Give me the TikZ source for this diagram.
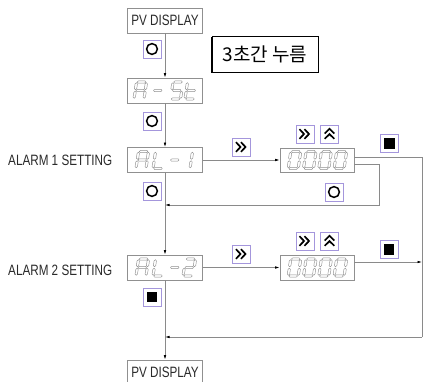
\documentclass[tikz,border=0pt]{standalone}
\usepackage{fontspec}
\usetikzlibrary{arrows.meta}
\newfontfamily\lab[FakeStretch=0.78]{Liberation Sans}
\newfontfamily\kr{Noto Sans CJK KR}
\definecolor{linegray}{HTML}{8A8A8A}
\definecolor{boxgray}{HTML}{909090}
\definecolor{seggray}{HTML}{909090}
\definecolor{btnpurple}{HTML}{A496DC}
\definecolor{txt}{HTML}{2A2A2A}
\tikzset{
  box/.style={draw=boxgray, line width=0.7pt, fill=white, minimum width=75pt, minimum height=25pt, inner sep=0pt, text=txt, font=\lab\fontsize{15}{15}\selectfont},
  btn/.style={draw=btnpurple, line width=0.7pt, fill=white, minimum size=18pt, inner sep=0pt},
  wire/.style={draw=linegray, line width=0.7pt},
  arr/.style={wire, -{Latex[length=4.5pt,width=2.6pt,black]}},
  seg/.style={draw=seggray, line width=0.45pt, line join=round},
  icon/.style={draw=black, line width=1.7pt},
  lbl/.style={text=txt, font=\lab\fontsize{15}{15}\selectfont, anchor=west, inner sep=0pt},
}
\newcommand\hseg[1]{\draw[seg] (0.7,#1) -- ++(1.2,1.2) -- ++(6.2,0) -- ++(1.2,-1.2) -- ++(-1.2,-1.2) -- ++(-6.2,0) -- cycle;}
\newcommand\vseg[2]{\draw[seg] (#1,#2+0.7) -- ++(1.2,1.2) -- ++(0,4.7) -- ++(-1.2,1.2) -- ++(-1.2,-1.2) -- ++(0,-4.7) -- cycle;}
\newcommand\segA{\hseg{17}}
\newcommand\segG{\hseg{8.5}}
\newcommand\segD{\hseg{0}}
\newcommand\segF{\vseg{0}{8.5}}
\newcommand\segE{\vseg{0}{0}}
\newcommand\segB{\vseg{10}{8.5}}
\newcommand\segC{\vseg{10}{0}}
\newcommand\sdig[3]{\begin{scope}[shift={(#1,#2)},yscale=-1,xslant=-0.15]\foreach \s in {#3}{\csname seg\s\endcsname}\end{scope}}
\newcommand\icCirc[1]{\draw[draw=black,line width=1.5pt] (#1.center) circle (5.4pt);}
\newcommand\icRight[1]{\begin{scope}[shift={(#1.center)}]\draw[icon] (-5.5,-4.8) -- (-1,0) -- (-5.5,4.8) (-0.5,-4.8) -- (4,0) -- (-0.5,4.8);\end{scope}}
\newcommand\icUp[1]{\begin{scope}[shift={(#1.center)}]\draw[icon] (-4.8,-0.5) -- (0,-5.2) -- (4.8,-0.5) (-4.8,4.8) -- (0,0.1) -- (4.8,4.8);\end{scope}}
\newcommand\icStop[1]{\fill[black] ([shift={(-5.4,-5.4)}]#1.center) rectangle ([shift={(5.4,5.4)}]#1.center);}
\begin{document}
\begin{tikzpicture}[x=1pt,y=-1pt]
\useasboundingbox[fill=white] (0,0) rectangle (426,382);
% main boxes
\node[box] (pv1) at (165,20.5) {PV DISPLAY};
\node[box] (ast) at (165,90.5) {};
\node[box] (al1) at (165,160) {};
\node[box] (al2) at (165,267.5) {};
\node[box] (pv2) at (165,372.5) {PV DISPLAY};
\node[box,minimum width=74pt,minimum height=24pt] (z1) at (317,160) {};
\node[box,minimum width=74pt] (z2) at (317,267.5) {};
% labels
\node[lbl] (t1) at (8,160.5) {ALARM 1 SETTING};
\node[lbl] (t2) at (8,270.5) {ALARM 2 SETTING};
% note box
\fill[black] (210.5,37.5) rectangle (316.5,73.5);
\node[draw=black, line width=0.8pt, fill=white, minimum width=106pt, minimum height=36pt, inner sep=0pt, font=\kr\fontsize{19}{19}\selectfont, text=black] (note) at (265,54) {3초간 누름};
% connectors
\coordinate (r1) at (379,164);
\coordinate (r2) at (379,205);
\coordinate (j1) at (165,205);
\coordinate (q1) at (422,157);
\coordinate (q2) at (422,337);
\coordinate (j2) at (165,337);
\coordinate (q3) at (422,262);
\draw[arr] (pv1) -- (ast);
\draw[arr] (ast) -- (al1);
\draw[arr] (al1) -- (al2);
\draw[arr] (al2) -- (pv2);
\draw[arr] (al1) -- (z1);
\draw[arr] (al2) -- (z2);
\draw[arr] (z1.east |- r1) -- (r1) -- (r2) -- (j1);
\draw[wire] (z1.east |- q1) -- (q1) -- (q2);
\draw[arr] (q2) -- (j2);
\draw[arr] (z2.east |- q3) -- (q3);
% seven-segment texts
\sdig{134}{99}{A,B,C,E,F,G}
\sdig{151.5}{99}{G}
\sdig{170.5}{99}{A,F,G,C,D}
\sdig{185}{99}{D,E,F,G}
\sdig{136}{168.5}{A,B,C,E,F,G}
\sdig{153}{168.5}{D,E,F}
\sdig{168.5}{168.5}{G}
\sdig{180}{168.5}{B,C}
\sdig{136}{276}{A,B,C,E,F,G}
\sdig{153}{276}{D,E,F}
\sdig{168.5}{276}{G}
\sdig{183}{276}{A,B,G,E,D}
\foreach \xx in {288.2,303.5,318.8,334.1}{
  \sdig{\xx}{168.5}{A,B,C,D,E,F}
  \sdig{\xx}{276}{A,B,C,D,E,F}
}
% buttons
\node[btn] (b1) at (152,49) {};
\node[btn] (b2) at (152,121) {};
\node[btn] (b3) at (152,191) {};
\node[btn] (b4) at (152,297) {};
\node[btn] (b5) at (241.5,147) {};
\node[btn] (b6) at (305,134) {};
\node[btn] (b7) at (329.5,134) {};
\node[btn] (b8) at (389.5,143.5) {};
\node[btn] (b9) at (334,192) {};
\node[btn] (b10) at (241.5,254) {};
\node[btn] (b11) at (305,241) {};
\node[btn] (b12) at (329.5,241) {};
\node[btn] (b13) at (389,249.5) {};
\icCirc{b1}
\icCirc{b2}
\icCirc{b3}
\icStop{b4}
\icRight{b5}
\icRight{b6}
\icUp{b7}
\icStop{b8}
\icCirc{b9}
\icRight{b10}
\icRight{b11}
\icUp{b12}
\icStop{b13}
\end{tikzpicture}
\end{document}
